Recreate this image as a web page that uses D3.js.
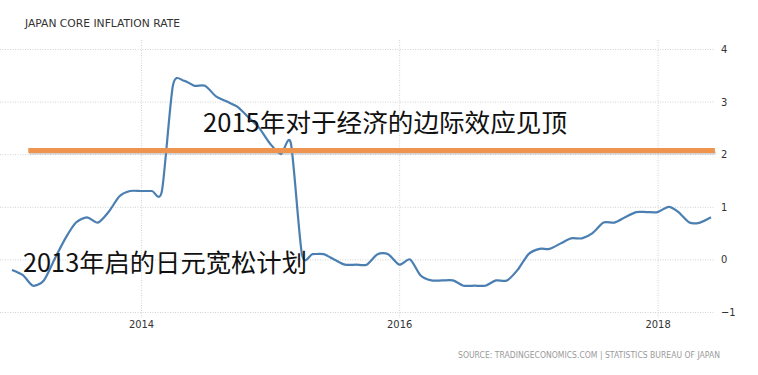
<!DOCTYPE html>
<html>
<head>
<meta charset="utf-8">
<script src="https://cdn.jsdelivr.net/npm/d3@7"></script>
<style>
  body { margin: 0; background: #fff; }
  svg { display: block; }
  .grid line { stroke: #d2d2d2; stroke-dasharray: 1,1.5; }
  .axis text { fill: #333; font-family: "DejaVu Sans Condensed", "Liberation Sans", sans-serif; font-size: 11px; }
</style>
</head>
<body>
<svg id="chart" width="758" height="375"></svg>
<script>
// Monthly core inflation, Jan 2013 .. Jun 2018
const values2013 = [-0.2, -0.3, -0.5, -0.4, 0.0, 0.4, 0.7, 0.8, 0.7, 0.9, 1.2, 1.3];
const values2014 = [1.3, 1.3, 1.3, 3.3, 3.4, 3.3, 3.3, 3.1, 3.0, 2.9, 2.7, 2.5];
const values2015 = [2.2, 2.0, 2.2, 0.1, 0.1, 0.1, 0.0, -0.1, -0.1, -0.1, 0.1, 0.1];
const values2016 = [-0.1, 0.0, -0.3, -0.4, -0.4, -0.4, -0.5, -0.5, -0.5, -0.4, -0.4, -0.2];
const values2017 = [0.1, 0.2, 0.2, 0.3, 0.4, 0.4, 0.5, 0.7, 0.7, 0.8, 0.9, 0.9];
const values2018 = [0.9, 1.0, 0.9, 0.7, 0.7, 0.8];

const yTicks = [-1, 0, 1, 2, 3, 4];
const xTickYears = [2014, 2016, 2018];

// hand-drawn orange marker line (value and span in data units)
const refLevel = 2.07;
const refSpan = ["2013-02-16", "2018-06-12"];

const titleText = "JAPAN CORE INFLATION RATE";
const sourceText = "SOURCE: TRADINGECONOMICS.COM | STATISTICS BUREAU OF JAPAN";
const note2015 = "2015年对于经济的边际效应见顶";
const note2013 = "2013年启的日元宽松计划";

// build the series
const yearly = [values2013, values2014, values2015, values2016, values2017, values2018];
const series = [];
yearly.forEach((vals, yi) => {
  vals.forEach((v, m) => series.push({ date: new Date(2013 + yi, m, 1), value: v }));
});

const svg = d3.select("#chart");

const x = d3.scaleTime()
  .domain([new Date(2013, 0, 1), new Date(2018, 5, 1)])
  .range([12, 711]);

const y = d3.scaleLinear()
  .domain([-1, 4])
  .range([312, 49]);

// horizontal grid + right labels
const yAxis = d3.axisRight(y)
  .tickValues(yTicks)
  .tickSize(715)
  .tickPadding(6)
  .tickFormat(d3.format("d"));

svg.append("g")
  .attr("class", "axis grid")
  .call(yAxis)
  .call(g => g.select(".domain").remove());

// vertical grid + year labels
const xAxis = d3.axisBottom(x)
  .tickValues(xTickYears.map(yr => new Date(yr, 0, 1)))
  .tickSize(278)
  .tickPadding(2)
  .tickFormat(d3.timeFormat("%Y"));

svg.append("g")
  .attr("class", "axis grid")
  .attr("transform", "translate(0,40)")
  .call(xAxis)
  .call(g => g.select(".domain").remove());

// the series line
const line = d3.line()
  .x(d => x(d.date))
  .y(d => y(d.value))
  .curve(d3.curveCardinal.tension(0.25));

svg.append("path")
  .datum(series)
  .attr("fill", "none")
  .attr("stroke", "#4b7fb1")
  .attr("stroke-width", 2.2)
  .attr("stroke-linejoin", "round")
  .attr("d", line);

// orange marker with its soft shadow
const refX = refSpan.map(s => x(d3.timeParse("%Y-%m-%d")(s)));

svg.append("line")
  .attr("x1", refX[0] + 1).attr("x2", refX[1] + 1)
  .attr("y1", y(refLevel) + 2.5).attr("y2", y(refLevel) + 2.5)
  .attr("stroke", "#9a9a9a")
  .attr("stroke-opacity", 0.45)
  .attr("stroke-width", 3);

svg.append("line")
  .attr("x1", refX[0]).attr("x2", refX[1])
  .attr("y1", y(refLevel)).attr("y2", y(refLevel))
  .attr("stroke", "#ef944f")
  .attr("stroke-width", 5);

// title and source
svg.append("text")
  .attr("x", 25)
  .attr("y", 27)
  .attr("fill", "#333")
  .attr("textLength", 155)
  .attr("lengthAdjust", "spacingAndGlyphs")
  .style("font-family", "'DejaVu Sans', sans-serif")
  .style("font-size", "11px")
  .text(titleText);

svg.append("text")
  .attr("x", 720)
  .attr("y", 358)
  .attr("text-anchor", "end")
  .attr("fill", "#9a9a9a")
  .attr("textLength", 262)
  .attr("lengthAdjust", "spacingAndGlyphs")
  .style("font-family", "'DejaVu Sans', sans-serif")
  .style("font-size", "8.5px")
  .text(sourceText);

// annotations
svg.append("text")
  .attr("x", 203)
  .attr("y", 132)
  .attr("fill", "#111")
  .attr("textLength", 364)
  .attr("lengthAdjust", "spacingAndGlyphs")
  .style("font-family", "'Noto Sans CJK SC', sans-serif")
  .style("font-size", "25px")
  .text(note2015);

svg.append("text")
  .attr("x", 23)
  .attr("y", 272)
  .attr("fill", "#111")
  .attr("textLength", 284)
  .attr("lengthAdjust", "spacingAndGlyphs")
  .style("font-family", "'Noto Sans CJK SC', sans-serif")
  .style("font-size", "25px")
  .text(note2013);
</script>
</body>
</html>
